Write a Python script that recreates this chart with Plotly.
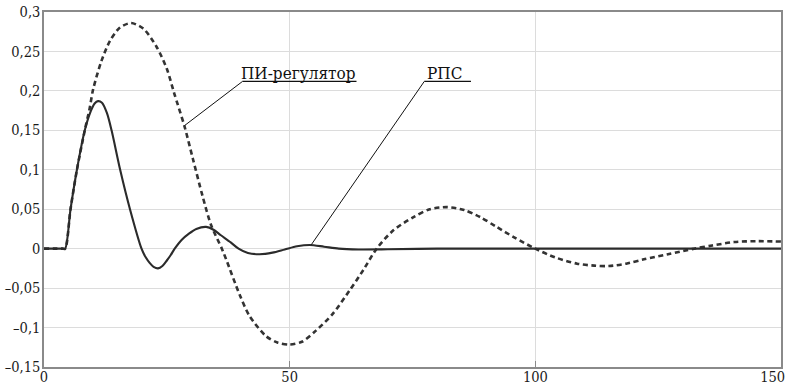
import plotly.graph_objects as go

# Time axis samples and responses
t_rps = [0, 2.0, 3.8, 4.3, 5.4, 6.7, 8.3, 9.5, 10.3, 11, 11.8, 12.8, 13.75,
         15.5, 17.5, 19.85, 20.7, 21.5, 22.3, 23.2, 24.1, 25, 25.8, 26.6, 28,
         29.5, 31, 33, 34.5, 36, 38, 39.6, 41.5, 43.9, 46.5, 49, 51.5, 54.1, 57,
         60, 64, 70, 80, 100, 125, 150]
y_rps = [0, 0, 0, 0, 0.05, 0.1, 0.15, 0.174, 0.184, 0.187, 0.185, 0.172, 0.15,
         0.1, 0.05, 0, -0.011, -0.018, -0.023, -0.025, -0.022, -0.015, -0.008,
         0, 0.011, 0.019, 0.025, 0.0276, 0.024, 0.017, 0.008, 0, -0.0055,
         -0.007, -0.005, -0.001, 0.003, 0.0047, 0.0025, 0, -0.001, -0.0008, 0,
         0, 0, 0]

t_pi = [0, 2.0, 3.8, 4.3, 5.4, 6.7, 8.3, 9.3, 10, 11.7, 13.4, 15.4, 17.7, 20.2,
        22.9, 25, 26.5, 28.6, 30.3, 32.3, 34.0, 36.2, 37.1, 39.8, 41.8, 45.2,
        47.5, 50, 52.5, 55.4, 58.8, 62.2, 65, 67.7, 71.1, 75.2, 78.5, 82, 85.5,
        88.8, 92, 95.6, 100, 104, 108.5, 112, 115, 118.5, 122.1, 127, 132.3,
        136, 140.5, 145, 150]
y_pi = [0, 0, 0, 0, 0.05, 0.1, 0.15, 0.178, 0.202, 0.238, 0.263, 0.280, 0.286,
        0.279, 0.256, 0.228, 0.197, 0.155, 0.114, 0.066, 0.030, 0, -0.014,
        -0.058, -0.085, -0.111, -0.119, -0.1215, -0.118, -0.1036, -0.0824,
        -0.0529, -0.027, 0, 0.0232, 0.040, 0.050, 0.0527, 0.049, 0.040, 0.028,
        0.0147, 0, -0.011, -0.019, -0.0215, -0.022, -0.019, -0.0135, -0.007, 0,
        0.004, 0.0084, 0.0095, 0.009]

# Axis ticks (the last x label is padded so it stays inside the page)
x_ticks = [0, 50, 100, 150]
x_ticktext = ["0", "50", "100", "150\u00a0\u00a0\u00a0\u00a0"]
y_ticks = [-0.15, -0.1, -0.05, 0, 0.05, 0.1, 0.15, 0.2, 0.25, 0.3]
y_ticktext = ["–0,15", "–0,1", "–0,05", "0", "0,05", "0,1", "0,15", "0,2",
              "0,25", "0,3"]

# Callout labels: text, point on curve, elbow of leader, end of underline, text centre
labels = ["ПИ-регулятор", "РПС"]
label_point_x = [28.6, 54.4]
label_point_y = [0.156, 0.005]
label_elbow_x = [40.4, 77.4]
label_end_x = [63.6, 86.9]
label_text_x = [51.7, 81.6]
label_y = 0.212

SERIF = "DejaVu Serif Condensed, DejaVu Serif"

fig = go.Figure()
fig.add_trace(go.Scatter(
    x=t_pi, y=y_pi, mode="lines", line_shape="spline",
    line=dict(color="#333333", width=2.6, dash="5px,3.5px", smoothing=0.8),
    name="ПИ-регулятор", showlegend=False))
fig.add_trace(go.Scatter(
    x=t_rps, y=y_rps, mode="lines", line_shape="spline",
    line=dict(color="#2b2b2b", width=2.1, smoothing=0.8),
    name="РПС", showlegend=False))

for i, txt in enumerate(labels):
    fig.add_shape(type="line", xref="x", yref="y",
                  x0=label_point_x[i], y0=label_point_y[i],
                  x1=label_elbow_x[i], y1=label_y,
                  line=dict(color="#111111", width=1))
    fig.add_shape(type="line", xref="x", yref="y",
                  x0=label_elbow_x[i], y0=label_y,
                  x1=label_end_x[i], y1=label_y,
                  line=dict(color="#111111", width=1.2))
    fig.add_annotation(x=label_text_x[i], y=label_y, xref="x", yref="y",
                       text=txt, showarrow=False, yanchor="bottom",
                       borderpad=0, yshift=-3,
                       font=dict(family=SERIF, size=17, color="#111111"))

fig.update_xaxes(range=[0, 150], tickvals=x_ticks, ticktext=x_ticktext,
                 showgrid=True, gridcolor="#dcdcdc", gridwidth=1,
                 zeroline=False, showline=True, linecolor="#8a8a8a",
                 linewidth=1.5, mirror=True, ticks="inside", ticklen=6,
                 tickcolor="#8a8a8a", automargin=False, ticklabelstandoff=-4,
                 ticklabeloverflow="allow",
                 tickfont=dict(family=SERIF, size=14.5, color="#1a1a1a"))
fig.update_yaxes(range=[-0.15, 0.3], tickvals=y_ticks, ticktext=y_ticktext,
                 showgrid=True, gridcolor="#dcdcdc", gridwidth=1,
                 zeroline=False, showline=True, linecolor="#8a8a8a",
                 linewidth=1.5, mirror=True, ticks="", ticklen=0,
                 automargin=False, ticklabelstandoff=-1,
                 tickfont=dict(family=SERIF, size=14.5, color="#1a1a1a"))

fig.update_layout(width=787, height=386,
                  margin=dict(l=44, r=6, t=12, b=19, autoexpand=False),
                  paper_bgcolor="white", plot_bgcolor="white")

fig.write_html("out.html")
